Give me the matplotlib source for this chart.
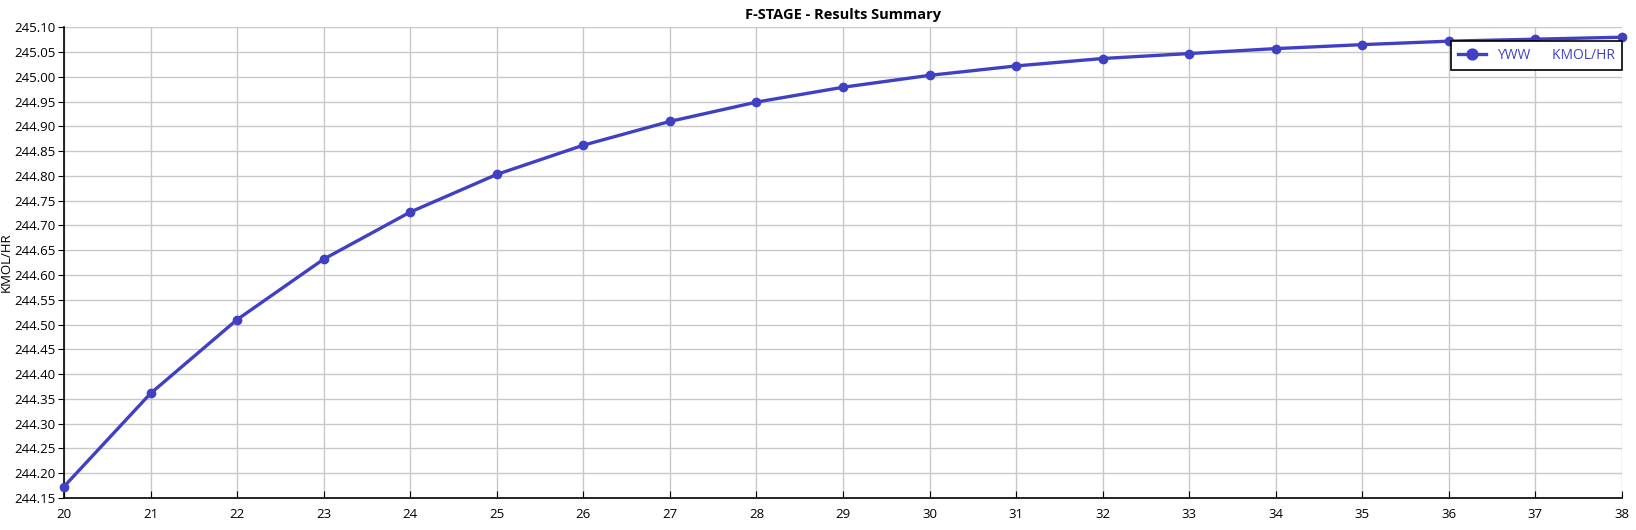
import numpy as np
import matplotlib; matplotlib.use("Agg")
import matplotlib.pyplot as plt
from matplotlib.ticker import MultipleLocator, FormatStrFormatter
plt.rcParams.update({"font.family": ["Open Sans", "DejaVu Sans"], "font.size": 10})

stage = [20, 21, 22, 23, 24, 25, 26, 27, 28, 29, 30, 31, 32, 33, 34, 35, 36, 37, 38]
yww = [244.173, 244.361, 244.510, 244.632, 244.727, 244.803, 244.862, 244.910, 244.949, 244.979,
       245.003, 245.022, 245.037, 245.047, 245.057, 245.065, 245.072, 245.076, 245.080]

col = "#4040C4"
fig = plt.figure(figsize=(16.36, 5.30), dpi=100)
ax = fig.add_axes([0.0391, 0.0604, 0.9523, 0.8881])
ax.plot(stage, yww, color=col, lw=2.4, marker="o", ms=6, label="YWW",
        clip_on=False, zorder=3)
ax.set_xlim(20, 38); ax.set_ylim(244.15, 245.10)
ax.xaxis.set_major_locator(MultipleLocator(1))
ax.yaxis.set_major_locator(MultipleLocator(0.05))
ax.yaxis.set_major_formatter(FormatStrFormatter("%.2f"))
ax.grid(True, color="#c8c8c8", lw=1)
ax.set_axisbelow(True)
for s in ["top", "right"]: ax.spines[s].set_visible(False)
for s in ["left", "bottom"]: ax.spines[s].set_linewidth(1.2)
ax.tick_params(axis="y", direction="out", length=4, labelsize=9.5, pad=2)
ax.tick_params(axis="x", direction="in", length=5, labelsize=9.5, pad=7)
ax.set_ylabel("KMOL/HR", fontsize=9.5, labelpad=1)
ax.set_title("F-STAGE - Results Summary", fontsize=10.5, fontweight="bold", pad=6)
h, l = ax.get_legend_handles_labels()
leg = ax.legend(h, [l[0] + "      KMOL/HR"], loc="upper right", bbox_to_anchor=(1.0, 0.971),
                borderaxespad=0, fancybox=False, framealpha=1, edgecolor="black",
                labelcolor=col, fontsize=10, handlelength=2.0, handletextpad=0.8,
                borderpad=0.5, markerscale=1.3)
leg.get_frame().set_linewidth(1.2)
fig.savefig("out.png")
